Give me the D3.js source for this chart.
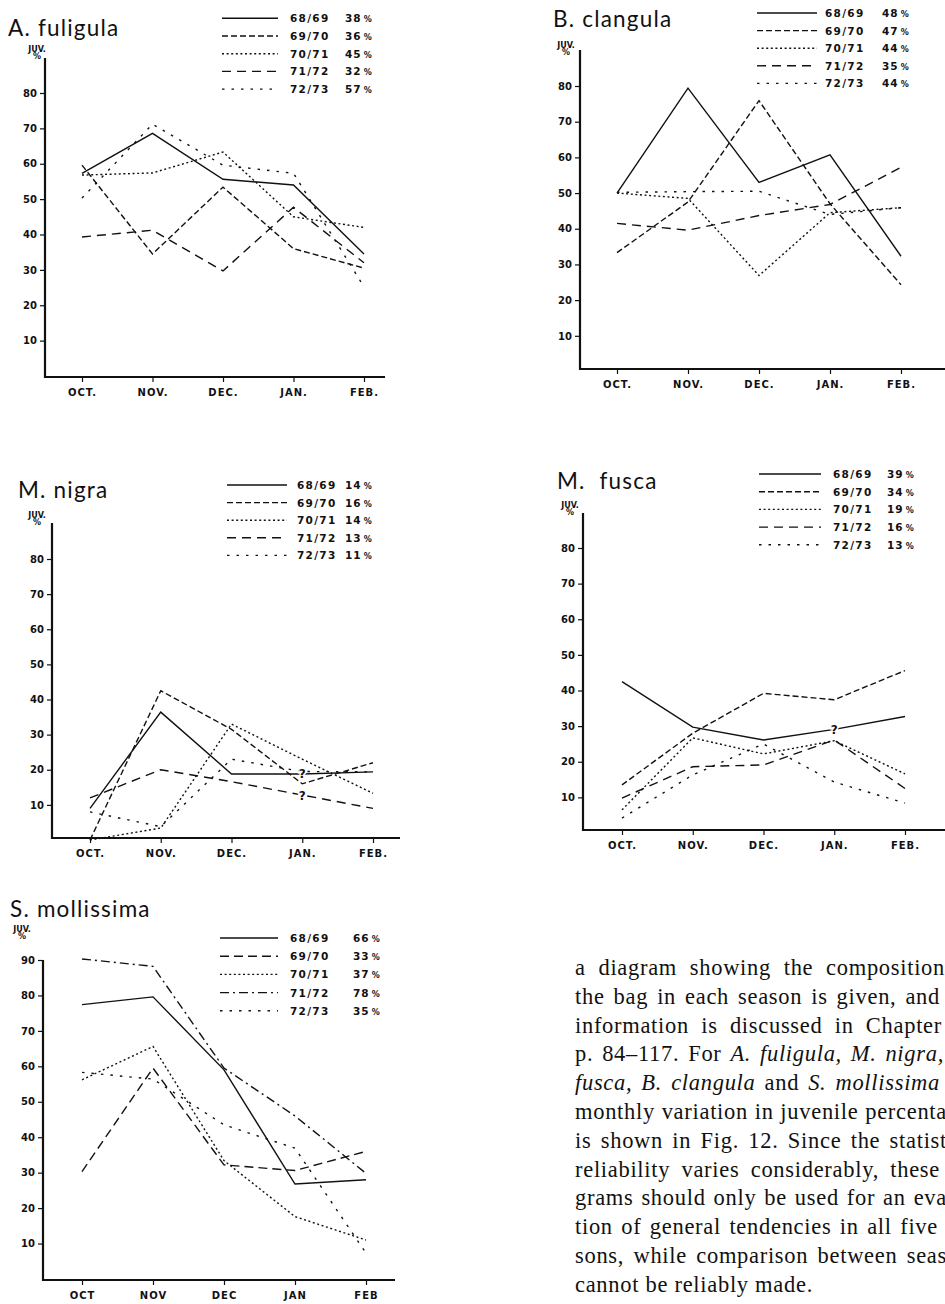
<!DOCTYPE html>
<html><head><meta charset="utf-8">
<script src="https://cdn.jsdelivr.net/npm/d3@7"></script>
<style>body{margin:0;background:#fff} svg{display:block}</style>
</head><body>
<svg id="c" width="945" height="1304"></svg>
<script>
// ---------- DATA ----------
const monthsDot = ["OCT.", "NOV.", "DEC.", "JAN.", "FEB."];
const monthsPlain = ["OCT", "NOV", "DEC", "JAN", "FEB"];
const seasons = ["68/69", "69/70", "70/71", "71/72", "72/73"];
const ticks80 = [10, 20, 30, 40, 50, 60, 70, 80];
const ticks90 = [10, 20, 30, 40, 50, 60, 70, 80, 90];

// A. fuligula (rows = seasons, cols = OCT..FEB)
const fuligulaValues = [
  [57.3, 68.6, 55.6, 54.0, 34.5],
  [59.6, 34.5, 53.4, 36.0, 30.5],
  [56.8, 57.4, 63.3, 45.0, 42.0],
  [39.3, 41.2, 29.7, 47.7, 32.0],
  [50.3, 71.2, 59.6, 57.3, 25.2]
];
const fuligulaPct = [38, 36, 45, 32, 57];

// B. clangula
const clangulaValues = [
  [50.0, 79.4, 53.0, 60.7, 32.3],
  [33.3, 47.5, 75.9, 47.0, 24.3],
  [50.0, 48.5, 26.9, 44.5, 45.9],
  [41.5, 39.6, 43.7, 46.8, 57.2],
  [50.2, 50.4, 50.5, 44.0, 45.9]
];
const clangulaPct = [48, 47, 44, 35, 44];

// M. nigra
const nigraValues = [
  [9.0, 36.4, 18.8, 18.8, 19.4],
  [0.0, 42.5, 31.5, 16.0, 22.0],
  [0.0, 3.4, 33.0, 23.0, 13.3],
  [12.0, 20.0, 16.6, 12.8, 9.0],
  [8.0, 3.8, 23.0, 19.5, 19.4]
];
const nigraPct = [14, 16, 14, 13, 11];
const nigraQuery = [[0, 3], [3, 3]]; // [season, month] points marked "?"

// M. fusca
const fuscaValues = [
  [42.5, 29.7, 26.1, 29.1, 32.7],
  [13.5, 28.0, 39.2, 37.4, 45.6],
  [6.5, 26.7, 22.2, 25.9, 16.6],
  [9.8, 18.6, 19.1, 26.1, 12.5],
  [4.2, 16.3, 25.0, 14.3, 8.4]
];
const fuscaPct = [39, 34, 19, 16, 13];
const fuscaQuery = [[0, 3]];

// S. mollissima
const mollissimaValues = [
  [77.4, 79.6, 59.0, 26.8, 28.0],
  [30.3, 59.5, 32.2, 30.6, 36.0],
  [56.2, 65.6, 33.4, 17.6, 11.0],
  [90.3, 88.2, 59.5, 46.0, 29.8],
  [58.3, 56.4, 43.5, 36.9, 7.3]
];
const mollissimaPct = [66, 33, 37, 78, 35];

// ---------- LAYOUT ----------
const dashDefault = [null, "6,3", "2,2.6", "9,6", "2.5,7"];
const dashEider = [null, "9,5", "2,2.6", "9,4,2,4", "2.5,7"];

const panels = [
  { title: "A. fuligula", tx: 8, ty: 36, values: fuligulaValues, pct: fuligulaPct,
    months: monthsDot, ticks: ticks80, ymax: 80,
    axX: 45, axTop: 58, axY: 377, axRight: 385, xr: [82, 364], yr: [376, 93],
    juv: [37, 52], lg: { x1: 222, x2: 278, tx: 290, px: 345, y0: 18.3, dy: 17.7 },
    dash: dashDefault, query: [] },
  { title: "B. clangula", tx: 553, ty: 27, values: clangulaValues, pct: clangulaPct,
    months: monthsDot, ticks: ticks80, ymax: 80,
    axX: 580, axTop: 50, axY: 369, axRight: 945, xr: [617, 901], yr: [371.5, 86],
    juv: [566, 48], lg: { x1: 757, x2: 817, tx: 825, px: 882, y0: 13, dy: 17.6 },
    dash: dashDefault, query: [] },
  { title: "M. nigra", tx: 18, ty: 498, values: nigraValues, pct: nigraPct,
    months: monthsDot, ticks: ticks80, ymax: 80,
    axX: 52, axTop: 523, axY: 838, axRight: 400, xr: [90, 373], yr: [840, 559],
    juv: [37, 518], lg: { x1: 227, x2: 287, tx: 297, px: 345, y0: 485, dy: 17.6 },
    dash: dashDefault, query: nigraQuery },
  { title: "M.  fusca", tx: 557, ty: 489, values: fuscaValues, pct: fuscaPct,
    months: monthsDot, ticks: ticks80, ymax: 80,
    axX: 583, axTop: 513, axY: 830, axRight: 945, xr: [622, 905], yr: [833, 548],
    juv: [570, 508], lg: { x1: 759, x2: 821, tx: 833, px: 887, y0: 474, dy: 17.7 },
    dash: dashDefault, query: fuscaQuery },
  { title: "S. mollissima", tx: 10, ty: 917, values: mollissimaValues, pct: mollissimaPct,
    months: monthsPlain, ticks: ticks90, ymax: 90,
    axX: 43, axTop: 960, axY: 1280, axRight: 395, xr: [82, 366], yr: [1279, 960],
    juv: [22, 932], lg: { x1: 220, x2: 278, tx: 290, px: 353, y0: 938, dy: 18.2 },
    dash: dashEider, query: [] }
];

const svg = d3.select("#c");
const tickFont = "'DejaVu Sans', sans-serif";

panels.forEach(p => {
  const g = svg.append("g");
  const x = d3.scalePoint().domain(p.months).range(p.xr);
  const y = d3.scaleLinear().domain([0, p.ymax]).range(p.yr);

  // title
  g.append("text").attr("x", p.tx).attr("y", p.ty).text(p.title)
    .attr("font-family", "Lato, 'Open Sans', sans-serif").attr("font-size", 22.5)
    .attr("letter-spacing", 1.2).attr("fill", "#111").style("white-space", "pre");

  // JUV. %
  g.append("text").attr("x", p.juv[0]).attr("y", p.juv[1]).text("JUV.")
    .attr("text-anchor", "middle").attr("font-family", tickFont).attr("font-weight", "bold")
    .attr("font-size", 8).attr("fill", "#111");
  g.append("text").attr("x", p.juv[0]).attr("y", p.juv[1] + 7).text("%")
    .attr("text-anchor", "middle").attr("font-family", tickFont).attr("font-weight", "bold")
    .attr("font-size", 8).attr("fill", "#111");

  // y axis
  const yAxis = d3.axisLeft(y).tickValues(p.ticks).tickSize(5).tickPadding(3).tickFormat(d3.format("d"));
  const ya = g.append("g").attr("transform", `translate(${p.axX},0)`).call(yAxis);
  ya.select(".domain").remove();
  ya.selectAll(".tick line").attr("stroke", "#111").attr("stroke-width", 1.2);
  ya.selectAll(".tick text").attr("font-family", tickFont).attr("font-weight", "bold")
    .attr("font-size", 10).attr("fill", "#111");
  g.append("line").attr("x1", p.axX).attr("x2", p.axX).attr("y1", p.axTop).attr("y2", p.axY + 1)
    .attr("stroke", "#111").attr("stroke-width", 2.2);

  // x axis
  const xAxis = d3.axisBottom(x).tickSize(5).tickPadding(7);
  const xa = g.append("g").attr("transform", `translate(0,${p.axY})`).call(xAxis);
  xa.select(".domain").remove();
  xa.selectAll(".tick line").attr("stroke", "#111").attr("stroke-width", 1.2);
  xa.selectAll(".tick text").attr("font-family", tickFont).attr("font-weight", "bold")
    .attr("font-size", 10).attr("letter-spacing", 1).attr("fill", "#111");
  g.append("line").attr("x1", p.axX - 1).attr("x2", p.axRight).attr("y1", p.axY).attr("y2", p.axY)
    .attr("stroke", "#111").attr("stroke-width", 2.2);

  // series lines
  const line = d3.line().x((d, i) => x(p.months[i])).y(d => y(d));
  p.values.forEach((vals, si) => {
    g.append("path").attr("d", line(vals)).attr("fill", "none")
      .attr("stroke", "#111").attr("stroke-width", 1.4)
      .attr("stroke-dasharray", p.dash[si]);
  });

  // "?" marks
  p.query.forEach(([si, mi]) => {
    g.append("text").attr("x", x(p.months[mi])).attr("y", y(p.values[si][mi]) + 4.5).text("?")
      .attr("text-anchor", "middle").attr("font-family", tickFont).attr("font-weight", "bold")
      .attr("font-size", 12).attr("fill", "#111")
      .attr("stroke", "#fff").attr("stroke-width", 3).attr("paint-order", "stroke");
  });

  // legend
  seasons.forEach((s, si) => {
    const ly = p.lg.y0 + si * p.lg.dy;
    g.append("line").attr("x1", p.lg.x1).attr("x2", p.lg.x2).attr("y1", ly).attr("y2", ly)
      .attr("stroke", "#111").attr("stroke-width", 1.4).attr("stroke-dasharray", p.dash[si]);
    g.append("text").attr("x", p.lg.tx).attr("y", ly + 4).text(s)
      .attr("font-family", tickFont).attr("font-weight", "bold").attr("font-size", 10.5)
      .attr("letter-spacing", 1.3).attr("fill", "#111");
    const t = g.append("text").attr("x", p.lg.px).attr("y", ly + 4)
      .attr("font-family", tickFont).attr("font-weight", "bold").attr("font-size", 10.5)
      .attr("fill", "#111");
    t.append("tspan").text(p.pct[si]).attr("letter-spacing", 1);
    t.append("tspan").text("%").attr("font-size", 8).attr("dx", 2);
  });
});

// ---------- BODY TEXT ----------
const bodyLines = [
  { parts: [["a diagram showing the composition", 0]], end: 945 },
  { parts: [["the bag in each season is given, and", 0]], end: 940 },
  { parts: [["information is discussed in Chapter", 0]], end: 942 },
  { parts: [["p. 84–117. For ", 0], ["A. fuligula, M. nigra,", 1]], end: 944 },
  { parts: [["fusca, B. clangula", 1], [" and ", 0], ["S. mollissima", 1]], end: 940 },
  { parts: [["monthly variation in juvenile percenta", 0]], end: 947 },
  { parts: [["is shown in Fig. 12. Since the statist", 0]], end: 947 },
  { parts: [["reliability varies considerably, these", 0]], end: 940 },
  { parts: [["grams should only be used for an eva", 0]], end: 947 },
  { parts: [["tion of general tendencies in all five", 0]], end: 938 },
  { parts: [["sons, while comparison between seas", 0]], end: 947 },
  { parts: [["cannot be reliably made.", 0]], end: null }
];
const bx = 575, by0 = 975, bdy = 28.8;
bodyLines.forEach((ln, i) => {
  const t = svg.append("text").attr("x", bx).attr("y", by0 + i * bdy)
    .attr("font-family", "'Liberation Serif', 'Times New Roman', serif").attr("font-size", 22.5)
    .attr("letter-spacing", 0.7)
    .attr("fill", "#111").style("white-space", "pre");
  ln.parts.forEach(([s, it]) => {
    t.append("tspan").text(s).attr("font-style", it ? "italic" : "normal");
  });
  if (ln.end) {
    const w = t.node().getComputedTextLength();
    const full = ln.parts.map(d => d[0]).join("");
    const spaces = (full.match(/ /g) || []).length;
    const extra = (ln.end - bx) - w;
    if (spaces > 0) t.attr("word-spacing", extra / spaces);
  }
});
</script>
</body></html>
